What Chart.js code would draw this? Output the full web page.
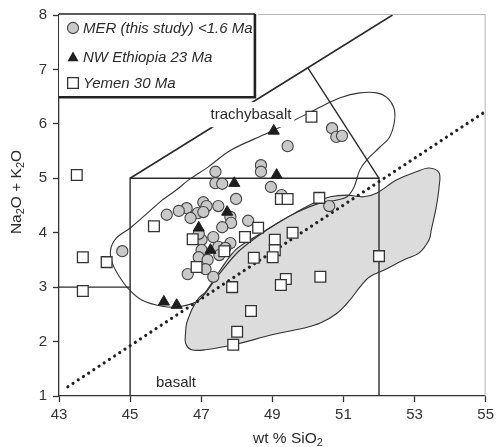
<!DOCTYPE html>
<html>
<head>
<meta charset="utf-8">
<script src="https://cdn.jsdelivr.net/npm/chart.js@4.4.1/dist/chart.umd.min.js"></script>
<style>
html,body{margin:0;padding:0;background:#fff;}
#wrap{width:498px;height:447px;position:relative;}
</style>
</head>
<body>
<div id="wrap"><canvas id="c" width="498" height="447"></canvas></div>
<script>
// ---- data (wt% SiO2 vs Na2O+K2O) ----
const merSiO2 = [50.68,50.80,50.96,49.43,48.68,48.68,48.96,49.26,50.60,47.40,47.40,47.59,47.98,47.06,47.15,47.48,46.59,46.37,46.03,46.90,46.70,47.82,47.84,47.59,48.32,47.34,47.01,47.82,47.48,47.01,46.93,47.51,47.18,47.12,46.62,47.34,44.78,47.06,47.68,46.93];
const merAlk  = [5.92,5.76,5.78,5.59,5.24,5.12,4.84,4.69,4.49,5.12,4.91,4.90,4.62,4.56,4.49,4.49,4.45,4.40,4.33,4.36,4.27,4.29,4.18,4.10,4.22,3.92,3.87,3.81,3.74,3.68,3.55,3.59,3.50,3.33,3.24,3.19,3.66,4.38,3.72,3.98];
const ethSiO2 = [49.04,49.12,47.93,47.73,46.93,47.26,45.95,46.31];
const ethAlk  = [5.87,5.06,4.91,4.38,4.09,3.68,2.73,2.67];
const yemSiO2 = [43.50,43.67,43.67,44.34,45.67,46.76,46.87,47.65,48.23,48.60,49.24,49.43,50.10,50.32,49.57,49.07,49.07,49.01,48.48,49.38,49.24,50.35,52.00,48.40,48.01,47.90,47.87];
const yemAlk  = [5.06,3.55,2.93,3.46,4.12,3.88,3.37,3.66,3.92,4.09,4.62,4.62,6.13,4.64,4.00,3.87,3.68,3.55,3.54,3.15,3.04,3.19,3.57,2.56,2.18,1.94,3.00];
// outline of field (open curve)
const outlineSiO2 = [45.90,45.03,44.61,44.45,44.50,44.70,44.98,45.34,45.90,46.37,46.93,47.48,48.04,48.60,49.15,49.71,50.27,50.82,51.10,51.30,51.46,51.66,52.02,52.30,52.44,52.41,52.21,51.94,51.46,50.91,50.35,49.63,48.87,47.84,47.20,46.65,46.29,45.90];
const outlineAlk  = [4.60,4.10,3.90,3.68,3.44,3.19,2.95,2.76,2.65,2.64,2.76,3.22,3.65,3.94,4.18,4.38,4.53,4.60,4.66,4.84,5.15,5.34,5.57,5.76,6.07,6.31,6.49,6.57,6.57,6.48,6.31,6.07,5.83,5.52,5.21,4.97,4.78,4.60];
// grey field
const greySiO2 = [46.73,46.93,47.12,47.48,47.96,48.51,49.15,49.63,50.18,50.63,51.10,51.57,51.94,52.49,53.05,53.41,53.69,53.69,53.61,53.47,53.41,53.13,52.69,52.13,51.74,51.46,51.18,50.82,50.35,49.90,48.96,48.04,47.12,46.73,46.56,46.56,46.59,46.73];
const greyAlk  = [2.58,2.80,2.91,3.26,3.68,3.92,4.18,4.36,4.55,4.66,4.69,4.66,4.73,4.97,5.12,5.19,5.10,4.84,4.47,4.05,3.87,3.63,3.50,3.31,3.19,3.00,2.76,2.52,2.34,2.25,2.12,1.96,1.85,1.85,1.97,2.16,2.34,2.58];
// TAS field boundaries
const bndA_SiO2 = [45,45,52,52];      const bndA_Alk = [1,5,5,1];
const bndB_SiO2 = [43,45];            const bndB_Alk = [3,3];
const bndC_SiO2 = [45,50,52.38];      const bndC_Alk = [5,7.03,8];
const bndD_SiO2 = [50,52];            const bndD_Alk = [7.03,5];
const divideSiO2 = [43.25,55];        const divideAlk = [1.17,6.23];
const xTicks = [43,45,47,49,51,53,55];
const yTicks = [1,2,3,4,5,6,7,8];
const legendLabels = ['MER (this study) <1.6 Ma','NW Ethiopia 23 Ma','Yemen 30 Ma'];
const fieldLabels = [{t:'trachybasalt', x:48.40, y:6.16}, {t:'basalt', x:46.29, y:1.24}];

const pts = (xs, ys) => xs.map((x,i)=>({x, y: ys[i]}));
const FONT = '"Liberation Sans", Arial, Helvetica, sans-serif';
const INK = '#2b2b2b';

const lineDs = (xs, ys, order, extra) => Object.assign({
  type:'scatter', data: pts(xs,ys), showLine:true, pointRadius:0, borderColor:INK,
  borderWidth:1.4, backgroundColor:'transparent', order, tension:0, fill:false
}, extra||{});

const datasets = [
  {label:legendLabels[1], data:pts(ethSiO2,ethAlk), pointStyle:'triangle', pointRadius:6.4,
   backgroundColor:'#1e1e1e', borderColor:'#1e1e1e', borderWidth:1, order:0},
  {label:legendLabels[2], data:pts(yemSiO2,yemAlk), pointStyle:'rect', pointRadius:7.6,
   backgroundColor:'#ffffff', borderColor:'#333', borderWidth:1.3, order:1},
  {label:legendLabels[0], data:pts(merSiO2,merAlk), pointStyle:'circle', pointRadius:5.6,
   backgroundColor:'#c9c9c9', borderColor:'#444', borderWidth:1.1, order:2},
  lineDs(divideSiO2, divideAlk, 4, {borderWidth:3.2, borderDash:[0.01,6.2], borderCapStyle:'round', borderColor:'#222'}),
  lineDs(bndA_SiO2, bndA_Alk, 5),
  lineDs(bndB_SiO2, bndB_Alk, 5),
  lineDs(bndC_SiO2, bndC_Alk, 5, {borderWidth:1.6}),
  lineDs(bndD_SiO2, bndD_Alk, 5),
  lineDs(outlineSiO2, outlineAlk, 8, {tension:0.35, borderWidth:1.1, borderColor:'#333'}),
  lineDs(greySiO2, greyAlk, 9, {tension:0.35, borderWidth:1.1, borderColor:'#333', fill:'shape', backgroundColor:'#dcdcdc'})
];
const CIRCLE_INDEX = 2;

function drawMarker(ctx, style, x, y) {
  ctx.save();
  if (style==='circle') {
    ctx.beginPath(); ctx.arc(x,y,5.6,0,Math.PI*2);
    ctx.fillStyle='#c9c9c9'; ctx.fill(); ctx.lineWidth=1.1; ctx.strokeStyle='#444'; ctx.stroke();
  } else if (style==='triangle') {
    const r=6.4; ctx.beginPath();
    for (let k=0;k<3;k++){const a=k*2*Math.PI/3; const px=x+Math.sin(a)*r, py=y-Math.cos(a)*r; k?ctx.lineTo(px,py):ctx.moveTo(px,py);}
    ctx.closePath(); ctx.fillStyle='#1e1e1e'; ctx.fill();
  } else {
    const s=7.6*Math.SQRT1_2; ctx.beginPath(); ctx.rect(x-s,y-s,2*s,2*s);
    ctx.fillStyle='#fff'; ctx.fill(); ctx.lineWidth=1.3; ctx.strokeStyle='#333'; ctx.stroke();
  }
  ctx.restore();
}

const overlay = {
  id:'overlay',
  beforeDatasetDraw(chart, args) {
    if (args.index !== CIRCLE_INDEX) return;
    const {ctx, scales:{x, y}} = chart;
    ctx.save();
    // field label backgrounds and text
    ctx.font = '15px ' + FONT;
    ctx.textAlign='center'; ctx.textBaseline='middle';
    fieldLabels.forEach((f,i)=>{
      const px = x.getPixelForValue(f.x), py = y.getPixelForValue(f.y);
      const w = ctx.measureText(f.t).width;
      if (i===0){ ctx.fillStyle='#fff'; ctx.fillRect(px-w/2-3, py-13, w+6, 25); }
      ctx.fillStyle='#2b2b2b'; ctx.fillText(f.t, px, py);
    });
    // legend box
    const L = chart.chartArea.left, T = chart.chartArea.top - 1;
    const R = x.getPixelForValue(48.51), B = y.getPixelForValue(6.49);
    ctx.fillStyle='#fff'; ctx.fillRect(L, T, R-L, B-T);
    ctx.strokeStyle='#222';
    ctx.lineWidth=1.5; ctx.beginPath(); ctx.moveTo(L,T); ctx.lineTo(R,T); ctx.stroke();
    ctx.lineWidth=2.6; ctx.beginPath(); ctx.moveTo(R,T); ctx.lineTo(R,B); ctx.lineTo(L,B); ctx.stroke();
    const styles=['circle','triangle','rect'];
    const rowsY=[28,57,83];
    ctx.font='italic 15px ' + FONT; ctx.textAlign='left'; ctx.textBaseline='middle';
    legendLabels.forEach((t,i)=>{
      drawMarker(ctx, styles[i], 73, rowsY[i] + (i===1?1:0));
      ctx.fillStyle='#2b2b2b'; ctx.fillText(t, 83, rowsY[i]+1);
    });
    ctx.restore();
  },
  afterDraw(chart) {
    const {ctx, chartArea:a} = chart;
    ctx.save();
    // light frame top & right
    ctx.strokeStyle='#b5b5b5'; ctx.lineWidth=1;
    ctx.beginPath(); ctx.moveTo(258, a.top-0.5); ctx.lineTo(a.right-0.5, a.top-0.5); ctx.lineTo(a.right-0.5, a.bottom); ctx.stroke();
    // x title
    ctx.fillStyle='#2b2b2b'; ctx.textBaseline='alphabetic'; ctx.textAlign='left';
    ctx.font='15.5px ' + FONT;
    let xx=253; const by=443;
    ctx.fillText('wt % SiO', xx, by); xx += ctx.measureText('wt % SiO').width;
    ctx.font='11px ' + FONT; ctx.fillText('2', xx, by+3);
    // y title (rotated)
    const parts=[['Na',0],['2',1],['O + K',0],['2',1],['O',0]];
    ctx.font='15.5px ' + FONT;
    let total=0; parts.forEach(p=>{ctx.font=(p[1]?'11px ':'15.5px ')+FONT; total+=ctx.measureText(p[0]).width;});
    ctx.translate(21, 192); ctx.rotate(-Math.PI/2);
    let cx=-total/2;
    parts.forEach(p=>{ctx.font=(p[1]?'11px ':'15.5px ')+FONT; ctx.fillText(p[0], cx, p[1]?3:0); cx+=ctx.measureText(p[0]).width;});
    ctx.restore();
  }
};

new Chart(document.getElementById('c'), {
  type:'scatter',
  data:{datasets},
  options:{
    responsive:false, devicePixelRatio:1, animation:false,
    layout:{padding:{top:15,right:8,left:0,bottom:0}},
    plugins:{legend:{display:false}, tooltip:{enabled:false}},
    scales:{
      x:{type:'linear', min:43, max:55,
         afterFit(s){ s.height = 51; },
         afterBuildTicks(s){ s.ticks = xTicks.map(v=>({value:v})); },
         ticks:{font:{family:FONT,size:15}, color:'#333', padding:4},
         grid:{drawOnChartArea:false, tickLength:6, color:'#333', tickWidth:1.3},
         border:{color:'#333', width:1.3}},
      y:{type:'linear', min:1, max:8,
         afterFit(s){ s.width = 59; },
         afterBuildTicks(s){ s.ticks = yTicks.map(v=>({value:v})); },
         ticks:{font:{family:FONT,size:15}, color:'#333', padding:6},
         grid:{drawOnChartArea:false, tickLength:6, color:'#333', tickWidth:1.3},
         border:{color:'#333', width:1.3}}
    }
  },
  plugins:[overlay]
});
</script>
</body>
</html>
